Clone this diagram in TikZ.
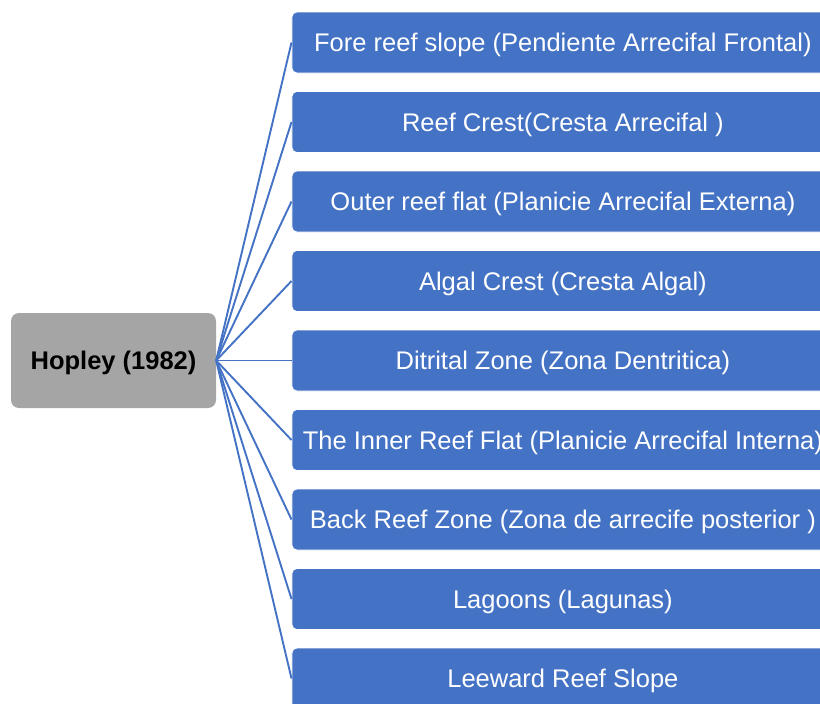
\documentclass[tikz,border=0pt]{standalone}
\usepackage{fontspec}
\setmainfont{Liberation Sans}
\definecolor{zoneblue}{HTML}{4472C4}
\definecolor{rootgray}{HTML}{A5A5A5}
\begin{document}
\begin{tikzpicture}[x=1pt,y=-1pt,
  zonebox/.style={fill=zoneblue, draw=white, line width=0.8pt, rounded corners=5pt,
    minimum width=542pt, minimum height=61pt, inner sep=0pt, anchor=west,
    text height=18.3pt, text depth=0pt,
    text=white, font=\fontsize{25.5}{30}\selectfont},
  rootbox/.style={fill=rootgray, draw=none, rounded corners=8pt,
    minimum width=205pt, minimum height=95pt, inner sep=0pt,
    text height=18.3pt, text depth=0pt,
    font=\fontsize{25.5}{30}\selectfont\bfseries},
  link/.style={draw=zoneblue, line width=1.9pt}]
\useasboundingbox (0,0) rectangle (820,704);
\clip (0,0) rectangle (820,704);
\node[rootbox] (root) at (113.5,360.5) {Hopley (1982)};
\foreach \i/\txt in {
  1/{Fore reef slope (Pendiente Arrecifal Frontal)},
  2/{Reef Crest(Cresta Arrecifal )},
  3/{Outer reef flat (Planicie Arrecifal Externa)},
  4/{Algal Crest (Cresta Algal)},
  5/{Ditrital Zone (Zona Dentritica)},
  6/{The Inner Reef Flat (Planicie Arrecifal Interna)},
  7/{Back Reef Zone (Zona de arrecife posterior )},
  8/{Lagoons (Lagunas)},
  9/{Leeward Reef Slope}}{
  \node[zonebox] (z\i) at (291.5,{42.5+79.5*(\i-1)}) {\txt};
  \draw[link] (root.east) -- (z\i.west);
}
\end{tikzpicture}
\end{document}
